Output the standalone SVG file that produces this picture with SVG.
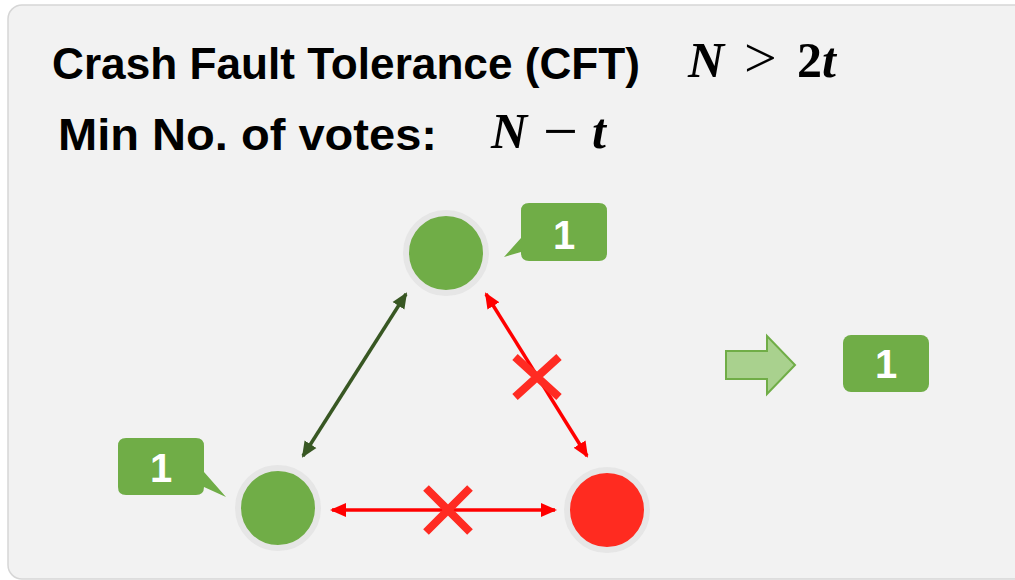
<svg xmlns="http://www.w3.org/2000/svg" width="1015" height="580" viewBox="0 0 1015 580">
<defs>
<style>
.title{font-family:"Liberation Sans",Arial,sans-serif;font-weight:bold;font-size:45px;fill:#000}
.math{font-family:"Liberation Serif","DejaVu Serif",serif;font-size:50px;fill:#000}
.bi{font-weight:bold;font-style:italic}
.num{font-family:"Liberation Sans",Arial,sans-serif;font-weight:bold;font-size:40px;fill:#fff;text-anchor:middle}
.ring{stroke:#e6e6e6;stroke-width:6}
.green{fill:#70ad47}
.cross{stroke:#ff2b22;stroke-width:8;fill:none}
</style>
<marker id="ag" viewBox="0 0 16 16" refX="14" refY="8" markerWidth="16" markerHeight="16" markerUnits="userSpaceOnUse" orient="auto-start-reverse">
<path d="M0,1 L16,8 L0,15 z" fill="#385723"/>
</marker>
<marker id="ar" viewBox="0 0 16 16" refX="14" refY="8" markerWidth="16" markerHeight="16" markerUnits="userSpaceOnUse" orient="auto-start-reverse">
<path d="M0,1 L16,8 L0,15 z" fill="#ff0000"/>
</marker>
</defs>
<rect x="0" y="0" width="1015" height="580" fill="#ffffff"/>
<rect x="8" y="5" width="1030" height="574" rx="14" fill="#f2f2f2" stroke="#d6d6d6" stroke-width="1.5"/>

<g id="title">
<text class="title" x="52" y="79" textLength="588" lengthAdjust="spacingAndGlyphs">Crash Fault Tolerance (CFT)</text>
<text class="math" x="688" y="77"><tspan class="bi">N</tspan><tspan x="744" font-size="58">&gt;</tspan><tspan x="797" font-weight="bold">2</tspan><tspan class="bi">t</tspan></text>
<text class="title" x="58" y="150" textLength="379" lengthAdjust="spacingAndGlyphs">Min No. of votes:</text>
<text class="math" x="491" y="148"><tspan class="bi">N</tspan><tspan x="543" dy="4" font-size="62">−</tspan><tspan x="592" dy="-4" class="bi">t</tspan></text>
</g>

<g id="connectors">
<line x1="406" y1="294" x2="303" y2="456" stroke="#385723" stroke-width="3.5" marker-start="url(#ag)" marker-end="url(#ag)"/>
<line x1="486" y1="294" x2="587" y2="456" stroke="#ff0000" stroke-width="3.5" marker-start="url(#ar)" marker-end="url(#ar)"/>
<line x1="332" y1="510" x2="555" y2="510" stroke="#ff0000" stroke-width="3.5" marker-start="url(#ar)" marker-end="url(#ar)"/>
<path class="cross" d="M515,357 L559,397 M559,357 L515,397"/>
<path class="cross" d="M426,488 L470,532 M470,488 L426,532"/>
</g>

<g id="node-top">
<circle cx="446" cy="253" r="40" class="green ring"/>
</g>
<g id="node-left">
<circle cx="278" cy="508" r="40" class="green ring"/>
</g>
<g id="node-right">
<circle cx="607" cy="510" r="40" fill="#ff2b20" class="ring"/>
</g>

<g id="callout-top">
<path class="green" d="M529,203 H599 Q607,203 607,211 V253 Q607,261 599,261 H529 Q521,261 521,253 V252 L504,257 L521,238 V211 Q521,203 529,203 Z"/>
<text class="num" x="564" y="249">1</text>
</g>
<g id="callout-left">
<path class="green" d="M126,438 H196 Q204,438 204,446 V472 L226,497 L204,487 Q204,495 196,495 H126 Q118,495 118,487 V446 Q118,438 126,438 Z"/>
<text class="num" x="161" y="482">1</text>
</g>

<g id="big-arrow">
<path d="M726,351 H767 V336 L795,365 L767,394 V379 H726 Z" fill="#a9d18e" stroke="#70ad47" stroke-width="2"/>
</g>
<g id="result">
<rect x="843" y="335" width="86" height="57" rx="8" class="green"/>
<text class="num" x="886" y="378">1</text>
</g>
</svg>
